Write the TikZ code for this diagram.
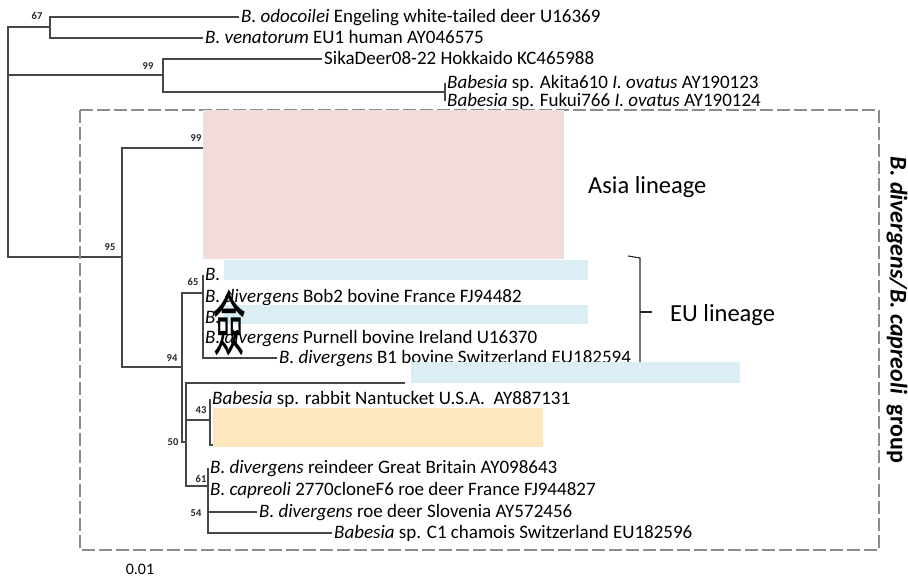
\documentclass[tikz,border=0pt]{standalone}
\usepackage{fontspec}
\setmainfont{Carlito}
\newfontfamily\cjkfont{Noto Sans CJK SC}
\usetikzlibrary{positioning}

\definecolor{asiapink}{HTML}{F2DCDB}
\definecolor{eublue}{HTML}{DAEEF3}
\definecolor{hidepeach}{HTML}{FEE6BF}
\definecolor{treegray}{HTML}{474747}

\begin{document}
\begin{tikzpicture}[x=1pt,y=-1pt, line cap=butt, line join=miter]

% ---------- styles ----------
\tikzset{
  branch/.style={draw=treegray, line width=1.2pt},
  leaf/.style={anchor=west, inner sep=2pt, text height=13pt, text depth=2pt,
               font=\fontsize{19}{21}\selectfont},
  boot/.style={font=\bfseries\fontsize{10.5}{11}\selectfont, text=black!85, inner sep=0pt},
  lineage/.style={anchor=west, inner sep=0pt, font=\fontsize{24.5}{26}\selectfont},
  groupframe/.style={draw=gray!90, line width=1.2pt, dash pattern=on 13pt off 4pt},
  bracket/.style={draw=black!85, line width=1.1pt},
}

% ---------- canvas ----------
\useasboundingbox (0,0) rectangle (908,578);

% ---------- internal nodes of the tree ----------
\coordinate (root) at (8,142);
\coordinate (n67)  at (50,27);
\coordinate (n99a) at (163,75);
\coordinate (njp)  at (445,92);
\coordinate (n95)  at (122,257);
\coordinate (n99b) at (215,148);
\coordinate (n94)  at (182,367);
\coordinate (n65)  at (203,293);
\coordinate (n50)  at (186,442);
\coordinate (n43)  at (210,420);
\coordinate (n61)  at (208,486);
% hidden tips (under the colour boxes)
\coordinate (portugal) at (405,383);
\coordinate (hid43)    at (232,445);

% ---------- leaves ----------
\node[leaf] (odo)   at (239,17)  {\textit{B. odocoilei} Engeling white-tailed deer U16369};
\node[leaf] (ven)   at (203,38)  {\textit{B. venatorum} EU1 human AY046575};
\node[leaf] (sika)  at (322,59)  {SikaDeer08-22 Hokkaido KC465988};
\node[leaf] (akita) at (445,83)  {\textit{Babesia} sp. Akita610 \textit{I. ovatus} AY190123};
\node[leaf] (fukui) at (445,101) {\textit{Babesia} sp. Fukui766 \textit{I. ovatus} AY190124};

\node[leaf] (eu1)     at (203,275) {\textit{B.}};
\node[leaf] (bob2)    at (203,297) {\textit{B. divergens} Bob2 bovine France FJ94482};
\node[leaf] (eu3)     at (203,318) {\textit{B.}};
\node[leaf] (purnell) at (203,338) {\textit{B. divergens} Purnell bovine Ireland U16370};
\node[leaf] (swiss)   at (277,358) {\textit{B. divergens} B1 bovine Switzerland EU182594};

\node[leaf] (rabbit)   at (210,399) {\textit{Babesia} sp. rabbit Nantucket U.S.A.\ \ AY887131};
\node[leaf] (reindeer) at (208,468) {\textit{B. divergens} reindeer Great Britain AY098643};
\node[leaf] (capreoli) at (208,490) {\textit{B. capreoli} 2770cloneF6 roe deer France FJ944827};
\node[leaf] (slovenia) at (257,512) {\textit{B. divergens} roe deer Slovenia AY572456};
\node[leaf] (chamois)  at (332,533) {\textit{Babesia} sp. C1 chamois Switzerland EU182596};

% ---------- branches ----------
\draw[branch] (root) |- (n67);
\draw[branch] (root) |- (n99a);
\draw[branch] (root) |- (n95);
\draw[branch] (n67) |- (odo.west);
\draw[branch] (n67) |- (ven.west);
\draw[branch] (n99a) |- (sika.west);
\draw[branch] (n99a) |- (njp);
\draw[branch] (njp) |- (akita.west);
\draw[branch] (njp) |- (fukui.west);
\draw[branch] (n95) |- (n99b);
\draw[branch] (n95) |- (n94);
\draw[branch] (n94) |- (n65);
\draw[branch] (n94) |- (n50);
\foreach \t in {eu1,bob2,eu3,purnell,swiss}
  \draw[branch] (n65) |- (\t.west);
\draw[branch] (n50) |- (portugal);
\draw[branch] (n50) |- (n43);
\draw[branch] (n50) |- (n61);
\draw[branch] (n43) |- (rabbit.west);
\draw[branch] (n43) |- (hid43);
\foreach \t in {reindeer,capreoli,slovenia,chamois}
  \draw[branch] (n61) |- (\t.west);

% ---------- bootstrap values ----------
\node[boot] (b67)  at (37,16)   {67};
\node[boot] (b99a) at (148,66)  {99};
\node[boot] (b95)  at (110,247) {95};
\node[boot] (b99b) at (196,138) {99};
\node[boot] (b94)  at (172,358) {94};
\node[boot] (b65)  at (193,282) {65};
\node[boot] (b50)  at (173,442) {50};
\node[boot] (b43)  at (201,410) {43};
\node[boot] (b61)  at (201,479) {61};
\node[boot] (b54)  at (196,513) {54};

% ---------- group frame ----------
\draw[groupframe] (80,110) rectangle (879,550);
\node[rotate=-90, inner sep=0pt, font=\bfseries\fontsize{24}{26}\selectfont] (grp)
  at (897,310) {\textit{B. divergens/B. capreoli}\ \ group};

% ---------- colour boxes ----------
\fill[asiapink]  (203,110) rectangle (564,259);
\fill[eublue]    (224,260) rectangle (588,280);
\fill[eublue]    (224,305) rectangle (588,324);
\fill[eublue]    (411,362) rectangle (740,383);
\fill[hidepeach] (213,408) rectangle (543,447);

% ---------- lineage labels ----------
\node[lineage] (asia) at (588,187) {Asia lineage};
\coordinate (eutop) at (628,256);
\coordinate (eubot) at (640,362);
\coordinate (eumid) at (640,312);
\draw[bracket] (eutop) -- (640,258) -- (eubot);
\draw[bracket] (eumid) -- ++(12,0);
\node[lineage] (eu) at (670,315) {EU lineage};

% ---------- stray glyph ----------
\node[inner sep=0pt] (glyph) at (230,323)
  {\scalebox{1.05}[2.3]{\cjkfont\fontsize{31}{31}\selectfont 僉}};

% ---------- scale ----------
\node[inner sep=0pt, font=\fontsize{16}{18}\selectfont] (scale) at (140,569) {0.01};

\end{tikzpicture}
\end{document}
